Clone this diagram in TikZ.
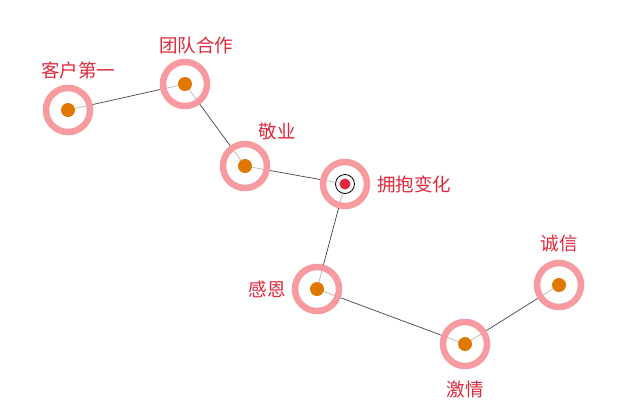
\documentclass[tikz,border=0pt]{standalone}
\usepackage{fontspec}
\setmainfont{Noto Sans CJK SC}
\usetikzlibrary{positioning}
\definecolor{mPink}{HTML}{F79BA0}
\definecolor{mOrange}{HTML}{E07800}
\definecolor{mRed}{HTML}{E0283C}
\definecolor{mLine}{HTML}{444444}

\begin{document}
\begin{tikzpicture}[x=1pt, y=-1pt,
  ring/.style={circle, draw=mPink, line width=6.5pt, fill=white, fill opacity=0.6,
               minimum size=44pt, inner sep=0pt},
  dot/.style={circle, fill=mOrange, minimum size=14pt, inner sep=0pt},
  label/.style={text=mRed, font=\fontsize{18.5}{20}\selectfont, inner sep=1pt},
  link/.style={draw=mLine, line width=0.7pt},
]
  \useasboundingbox (0,0) rectangle (631,416);

  % points of the path
  \foreach \name/\x/\y in {kehu/68/110, tuandui/185/84, jingye/245/166,
                           yongbao/345/184, ganen/317/289, jiqing/465/344,
                           chengxin/559/285} {
    \coordinate (\name) at (\x,\y);
  }

  % connectors
  \draw[link] (kehu) -- (tuandui) -- (jingye) -- (yongbao) -- (ganen)
              -- (jiqing) -- (chengxin);

  % rings and dots
  \foreach \name in {kehu, tuandui, jingye, yongbao, ganen, jiqing, chengxin} {
    \node[ring] (\name-r) at (\name) {};
  }
  \foreach \name in {kehu, tuandui, jingye, ganen, jiqing, chengxin} {
    \node[dot] (\name-d) at (\name) {};
  }
  \node[circle, draw=black, line width=0.8pt, fill=white, minimum size=19pt,
        inner sep=0pt] (yongbao-o) at (yongbao) {};
  \node[circle, fill=mRed, minimum size=11pt, inner sep=0pt] (yongbao-d) at (yongbao) {};

  % labels
  \node[label] (kehu-t) at (78,70) {客户第一};
  \node[label] (tuandui-t) at (196,45) {团队合作};
  \node[label] (jingye-t) at (277,131) {敬业};
  \node[label, right=6pt of yongbao-r] (yongbao-t) {拥抱变化};
  \node[label, left=5pt of ganen-r] (ganen-t) {感恩};
  \node[label] (jiqing-t) at (465,389) {激情};
  \node[label] (chengxin-t) at (559,243) {诚信};
\end{tikzpicture}
\end{document}
